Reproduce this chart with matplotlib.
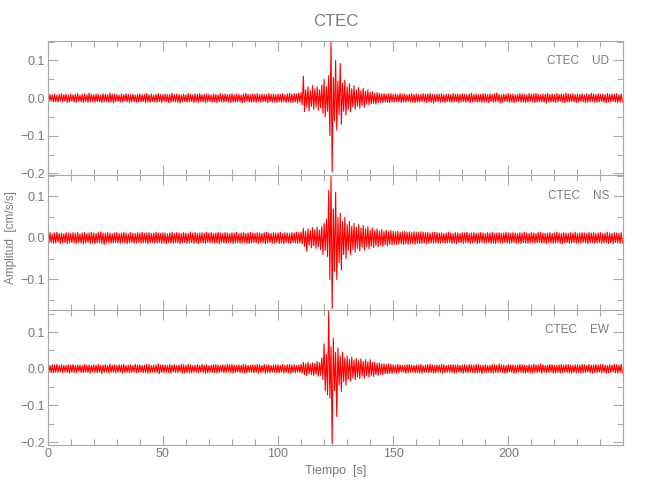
import numpy as np
import matplotlib
matplotlib.use("Agg")
import matplotlib.pyplot as plt
from matplotlib.ticker import MultipleLocator, FuncFormatter

# station / components
station = "CTEC"
components = ["UD", "NS", "EW"]

# time axis, one value per second
t = np.arange(250)

# highest / lowest amplitude within each second (cm/s/s)
ud_max = [.008, .010, .009, .011, .008, .010, .012, .009, .010, .008,
          .011, .009, .010, .012, .008, .010, .011, .009, .013, .010,
          .009, .011, .010, .008, .012, .010, .009, .014, .011, .010,
          .010, .008, .011, .009, .012, .010, .009, .011, .008, .010,
          .011, .009, .010, .012, .009, .011, .008, .010, .012, .009,
          .010, .011, .009, .010, .013, .009, .011, .010, .008, .011,
          .009, .012, .010, .009, .011, .010, .012, .009, .010, .011,
          .010, .008, .011, .010, .009, .012, .010, .011, .009, .010,
          .012, .009, .011, .010, .008, .011, .013, .010, .009, .011,
          .010, .012, .009, .011, .010, .009, .012, .010, .011, .009,
          .011, .010, .012, .009, .011, .013, .010, .012, .011, .013,
          .015, .058, .022, .030, .020, .033, .025, .030, .022, .035,
          .050, .030, .060, .148, .055, .100, .045, .092, .040, .048,
          .030, .038, .025, .033, .022, .028, .020, .026, .018, .022,
          .015, .017, .013, .015, .012, .011, .012, .010, .011, .012,
          .010, .011, .009, .012, .010, .011, .009, .010, .012, .010,
          .011, .009, .010, .012, .010, .011, .013, .010, .009, .011,
          .010, .012, .009, .011, .010, .009, .012, .010, .011, .010,
          .012, .010, .009, .011, .013, .010, .011, .009, .010, .012,
          .011, .009, .012, .010, .011, .014, .010, .009, .011, .010,
          .012, .010, .011, .009, .010, .012, .011, .010, .009, .012,
          .010, .011, .013, .010, .009, .011, .010, .012, .010, .011,
          .009, .012, .010, .011, .010, .013, .011, .010, .012, .009,
          .011, .010, .012, .009, .011, .010, .013, .011, .010, .012,
          .010, .011, .009, .012, .010, .011, .010, .012, .009, .011]
ud_min = [-.009, -.008, -.010, -.009, -.011, -.008, -.010, -.009, -.012, -.010,
          -.008, -.010, -.011, -.009, -.010, -.012, -.009, -.011, -.010, -.009,
          -.011, -.009, -.010, -.012, -.010, -.009, -.011, -.010, -.013, -.010,
          -.009, -.011, -.010, -.008, -.010, -.012, -.010, -.009, -.011, -.010,
          -.010, -.009, -.012, -.010, -.011, -.009, -.010, -.011, -.009, -.012,
          -.009, -.010, -.012, -.011, -.009, -.010, -.011, -.013, -.010, -.009,
          -.011, -.010, -.009, -.012, -.010, -.011, -.009, -.010, -.012, -.010,
          -.009, -.011, -.010, -.012, -.009, -.010, -.011, -.009, -.010, -.012,
          -.010, -.011, -.009, -.010, -.012, -.011, -.009, -.010, -.011, -.010,
          -.012, -.009, -.011, -.010, -.009, -.012, -.010, -.011, -.010, -.012,
          -.010, -.011, -.009, -.012, -.010, -.011, -.012, -.010, -.013, -.011,
          -.018, -.036, -.025, -.034, -.022, -.030, -.024, -.032, -.026, -.040,
          -.050, -.035, -.100, -.196, -.060, -.085, -.045, -.070, -.035, -.045,
          -.030, -.036, -.024, -.030, -.021, -.027, -.019, -.024, -.016, -.018,
          -.015, -.014, -.016, -.012, -.011, -.012, -.010, -.011, -.012, -.010,
          -.011, -.009, -.010, -.012, -.010, -.011, -.009, -.010, -.011, -.012,
          -.010, -.011, -.009, -.010, -.012, -.010, -.011, -.013, -.010, -.009,
          -.011, -.010, -.012, -.009, -.010, -.011, -.010, -.009, -.012, -.010,
          -.009, -.011, -.010, -.012, -.010, -.009, -.011, -.010, -.012, -.011,
          -.010, -.012, -.009, -.011, -.010, -.010, -.013, -.011, -.009, -.010,
          -.011, -.010, -.012, -.010, -.009, -.011, -.010, -.012, -.011, -.009,
          -.010, -.012, -.011, -.009, -.010, -.011, -.013, -.010, -.011, -.010,
          -.012, -.010, -.009, -.011, -.012, -.010, -.011, -.009, -.010, -.012,
          -.011, -.009, -.010, -.012, -.011, -.010, -.009, -.011, -.012, -.010,
          -.009, -.011, -.012, -.010, -.011, -.009, -.010, -.012, -.011, -.010]

ns_max = [.011, .013, .010, .012, .014, .011, .012, .010, .013, .012,
          .011, .013, .012, .014, .010, .012, .013, .011, .012, .014,
          .012, .011, .013, .015, .012, .011, .013, .012, .010, .012,
          .013, .011, .012, .014, .012, .010, .013, .012, .011, .013,
          .012, .014, .011, .012, .013, .011, .012, .014, .012, .011,
          .013, .012, .010, .012, .014, .011, .013, .012, .011, .013,
          .012, .011, .014, .012, .013, .011, .012, .013, .011, .014,
          .012, .013, .011, .012, .014, .012, .011, .013, .012, .011,
          .013, .012, .014, .011, .012, .013, .011, .012, .014, .012,
          .011, .013, .012, .011, .013, .014, .012, .011, .013, .012,
          .012, .014, .011, .013, .012, .011, .013, .012, .014, .013,
          .014, .023, .016, .022, .018, .025, .020, .026, .019, .028,
          .035, .045, .115, .148, .070, .110, .050, .060, .040, .050,
          .032, .040, .028, .035, .026, .032, .024, .030, .022, .027,
          .019, .024, .018, .022, .017, .020, .016, .019, .015, .018,
          .016, .015, .016, .014, .015, .016, .014, .015, .013, .015,
          .014, .013, .015, .014, .013, .014, .012, .013, .014, .013,
          .012, .013, .011, .012, .014, .012, .011, .013, .012, .011,
          .013, .012, .014, .011, .012, .013, .012, .011, .013, .012,
          .011, .013, .012, .014, .011, .012, .013, .011, .012, .014,
          .012, .011, .013, .012, .011, .013, .012, .014, .012, .011,
          .013, .012, .011, .013, .014, .012, .011, .012, .013, .011,
          .012, .014, .012, .011, .013, .012, .011, .013, .012, .014,
          .011, .012, .013, .012, .011, .014, .012, .013, .011, .012,
          .013, .011, .012, .014, .012, .011, .013, .012, .011, .013]
ns_min = [-.012, -.011, -.013, -.012, -.010, -.013, -.012, -.011, -.014, -.012,
          -.011, -.012, -.013, -.011, -.012, -.014, -.012, -.011, -.013, -.012,
          -.014, -.012, -.011, -.013, -.016, -.012, -.011, -.013, -.012, -.011,
          -.012, -.013, -.011, -.012, -.014, -.012, -.011, -.013, -.012, -.011,
          -.013, -.012, -.011, -.014, -.012, -.011, -.013, -.012, -.011, -.013,
          -.012, -.014, -.011, -.012, -.013, -.011, -.012, -.014, -.012, -.011,
          -.013, -.012, -.011, -.013, -.012, -.014, -.011, -.012, -.013, -.011,
          -.012, -.011, -.013, -.012, -.014, -.011, -.012, -.013, -.011, -.012,
          -.014, -.012, -.011, -.013, -.012, -.011, -.013, -.014, -.012, -.011,
          -.012, -.013, -.011, -.012, -.014, -.012, -.011, -.013, -.012, -.011,
          -.013, -.012, -.014, -.011, -.012, -.013, -.011, -.012, -.013, -.012,
          -.014, -.020, -.033, -.018, -.024, -.019, -.025, -.021, -.028, -.040,
          -.030, -.045, -.100, -.170, -.080, -.100, -.060, -.077, -.040, -.050,
          -.030, -.040, -.028, -.034, -.025, -.031, -.023, -.029, -.021, -.026,
          -.020, -.023, -.018, -.021, -.017, -.020, -.016, -.019, -.015, -.017,
          -.015, -.016, -.015, -.014, -.016, -.014, -.015, -.013, -.014, -.015,
          -.013, -.014, -.013, -.012, -.014, -.013, -.012, -.013, -.012, -.013,
          -.012, -.011, -.013, -.012, -.011, -.013, -.012, -.014, -.011, -.012,
          -.013, -.011, -.012, -.013, -.012, -.011, -.014, -.012, -.011, -.013,
          -.012, -.011, -.013, -.012, -.014, -.011, -.012, -.013, -.011, -.012,
          -.013, -.012, -.011, -.013, -.012, -.014, -.011, -.012, -.013, -.012,
          -.011, -.013, -.012, -.011, -.013, -.012, -.014, -.011, -.012, -.013,
          -.012, -.011, -.013, -.014, -.012, -.011, -.013, -.012, -.011, -.013,
          -.012, -.013, -.011, -.012, -.014, -.012, -.011, -.013, -.012, -.011,
          -.013, -.012, -.011, -.013, -.012, -.014, -.011, -.012, -.013, -.012]

ew_max = [.010, .009, .011, .010, .012, .009, .011, .010, .009, .011,
          .010, .012, .009, .011, .010, .009, .012, .010, .011, .009,
          .011, .010, .012, .009, .010, .011, .009, .013, .010, .011,
          .009, .011, .010, .012, .009, .010, .011, .009, .012, .010,
          .011, .009, .010, .012, .011, .009, .010, .011, .013, .010,
          .011, .010, .009, .012, .010, .011, .009, .010, .012, .011,
          .010, .012, .011, .009, .010, .011, .009, .012, .010, .011,
          .009, .010, .011, .012, .010, .009, .011, .010, .012, .011,
          .012, .010, .009, .011, .010, .012, .011, .009, .010, .011,
          .010, .012, .011, .009, .012, .010, .011, .009, .010, .011,
          .011, .009, .012, .010, .011, .012, .010, .011, .009, .010,
          .012, .018, .014, .018, .013, .016, .015, .020, .017, .030,
          .068, .040, .157, .060, .084, .045, .057, .035, .045, .030,
          .035, .026, .032, .024, .028, .022, .027, .020, .025, .019,
          .025, .017, .018, .015, .016, .013, .014, .012, .013, .012,
          .011, .010, .012, .011, .009, .010, .011, .012, .010, .009,
          .011, .010, .012, .009, .010, .011, .013, .010, .009, .011,
          .010, .012, .011, .009, .010, .011, .012, .010, .011, .009,
          .010, .011, .009, .012, .011, .010, .012, .011, .009, .010,
          .011, .009, .010, .012, .011, .010, .013, .011, .010, .009,
          .012, .010, .011, .009, .010, .012, .011, .010, .009, .011,
          .010, .012, .011, .010, .013, .011, .009, .010, .012, .011,
          .010, .009, .011, .012, .010, .011, .012, .010, .009, .011,
          .011, .010, .012, .011, .009, .012, .010, .011, .012, .010,
          .011, .012, .010, .009, .011, .010, .012, .011, .010, .012]
ew_min = [-.009, -.010, -.011, -.009, -.010, -.008, -.011, -.009, -.010, -.012,
          -.009, -.010, -.011, -.008, -.010, -.011, -.009, -.010, -.012, -.009,
          -.010, -.011, -.009, -.013, -.010, -.009, -.011, -.010, -.009, -.011,
          -.010, -.009, -.012, -.010, -.009, -.011, -.010, -.009, -.011, -.010,
          -.009, -.011, -.010, -.012, -.011, -.009, -.010, -.011, -.013, -.010,
          -.011, -.009, -.010, -.012, -.009, -.010, -.011, -.009, -.012, -.011,
          -.010, -.012, -.011, -.009, -.010, -.011, -.009, -.010, -.012, -.011,
          -.009, -.010, -.011, -.012, -.010, -.009, -.011, -.010, -.009, -.011,
          -.012, -.010, -.009, -.011, -.010, -.012, -.011, -.009, -.010, -.011,
          -.010, -.012, -.011, -.009, -.012, -.010, -.011, -.009, -.010, -.011,
          -.011, -.009, -.012, -.010, -.011, -.012, -.010, -.011, -.009, -.010,
          -.012, -.016, -.019, -.014, -.016, -.018, -.015, -.020, -.018, -.030,
          -.060, -.071, -.080, -.205, -.060, -.130, -.045, -.062, -.035, -.045,
          -.028, -.034, -.024, -.030, -.022, -.027, -.020, -.026, -.019, -.023,
          -.018, -.021, -.016, -.018, -.015, -.016, -.013, -.014, -.012, -.013,
          -.010, -.012, -.011, -.009, -.010, -.012, -.011, -.010, -.009, -.011,
          -.010, -.011, -.012, -.010, -.009, -.011, -.010, -.012, -.011, -.009,
          -.010, -.012, -.011, -.009, -.010, -.011, -.012, -.010, -.009, -.011,
          -.012, -.010, -.011, -.009, -.010, -.012, -.011, -.010, -.013, -.011,
          -.010, -.009, -.011, -.012, -.010, -.011, -.009, -.010, -.012, -.011,
          -.009, -.010, -.012, -.011, -.009, -.010, -.011, -.012, -.010, -.011,
          -.012, -.010, -.011, -.009, -.012, -.010, -.011, -.010, -.009, -.012,
          -.011, -.010, -.012, -.011, -.009, -.010, -.011, -.012, -.010, -.011,
          -.010, -.012, -.011, -.010, -.009, -.011, -.012, -.010, -.011, -.009,
          -.011, -.010, -.012, -.011, -.010, -.009, -.011, -.012, -.010, -.011]

tops = [ud_max, ns_max, ew_max]
bots = [ud_min, ns_min, ew_min]
ylims = [(-0.205, 0.153), (-0.174, 0.151), (-0.208, 0.160)]

txt_c = "#7a7a7a"
ax_c = "#a8a8a8"
plt.rcParams["font.family"] = ["Liberation Sans", "DejaVu Sans"]


def fmt(v, pos):
    if abs(v) < 1e-9:
        v = 0.0
    return f"{v:.1f}".replace("-", "\u2212")


fig = plt.figure(figsize=(6.5, 5), dpi=100)
left, right = 47.7 / 650, 623.3 / 650
top_px, bot_px = 40.5, 445.0
h_px = (bot_px - top_px) / 3

for i, (comp, hi, lo, lim) in enumerate(zip(components, tops, bots, ylims)):
    y0 = 1 - (top_px + (i + 1) * h_px) / 500
    ax = fig.add_axes([left, y0, right - left, h_px / 500])
    # max at the start of each second, min half a second later
    tt = np.column_stack([t, t + 0.5]).ravel()
    yy = np.column_stack([hi, lo]).ravel()
    ax.plot(tt, yy, color="#ff0000", lw=0.8)
    ax.set_xlim(0, 249.9)
    ax.set_ylim(*lim)
    ax.xaxis.set_major_locator(MultipleLocator(50))
    ax.xaxis.set_minor_locator(MultipleLocator(10))
    ax.yaxis.set_major_locator(MultipleLocator(0.1))
    ax.yaxis.set_minor_locator(MultipleLocator(0.05))
    ax.yaxis.set_major_formatter(FuncFormatter(fmt))
    ax.tick_params(which="both", direction="in", top=True, right=True,
                   color=ax_c, labelcolor=txt_c, labelsize=9, width=0.8)
    ax.tick_params(which="major", length=7.5, pad=2)
    ax.tick_params(which="minor", length=4)
    for s in ax.spines.values():
        s.set_color(ax_c)
        s.set_linewidth(0.8)
    if i < 2:
        ax.tick_params(labelbottom=False)
    ax.text(0.976, 0.85, f"{station}    {comp}", transform=ax.transAxes,
            ha="right", va="center", color=txt_c, fontsize=8.5)

fig.text(336 / 650, 1 - 22 / 500, station, ha="center", va="center",
         color=txt_c, fontsize=12)
fig.text(11 / 650, 1 - 238 / 500, "Amplitud  [cm/s/s]", rotation=90,
         ha="center", va="center", color=txt_c, fontsize=8.5)
fig.text(335.5 / 650, 1 - 471 / 500, "Tiempo  [s]", ha="center", va="center",
         color=txt_c, fontsize=9)

fig.savefig("out.png", dpi=100)
